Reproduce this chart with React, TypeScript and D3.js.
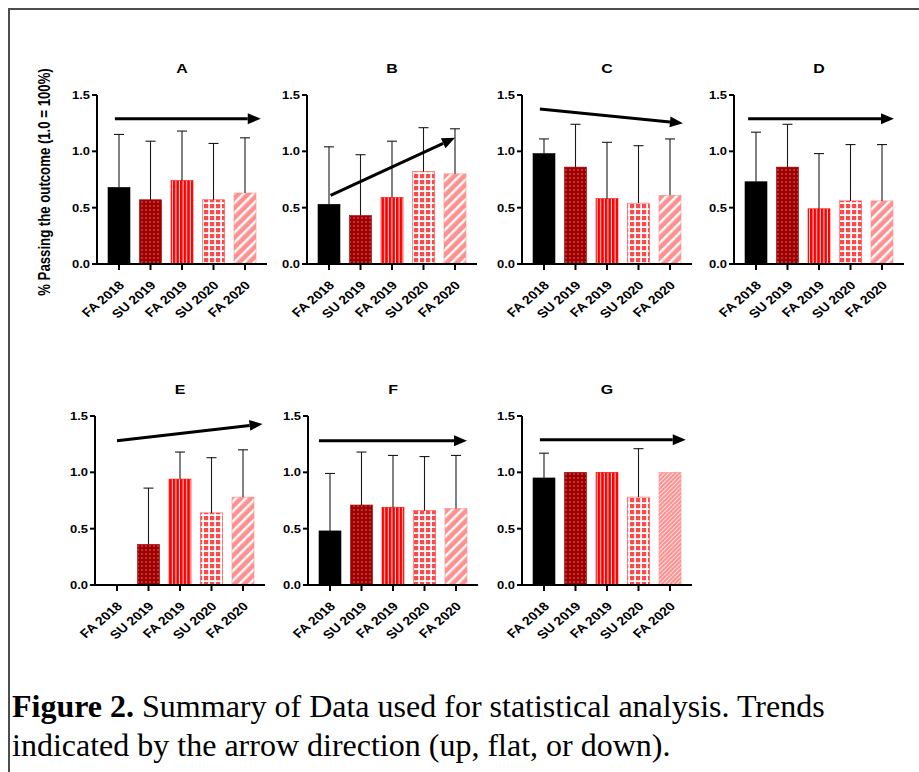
import React from "react";
import * as d3 from "d3";

const categories = ["FA 2018", "SU 2019", "FA 2019", "SU 2020", "FA 2020"];
const panelNames = ["A", "B", "C", "D", "E", "F", "G"];
const yTicks = [0, 0.5, 1.0, 1.5];

const meanA = [0.68, 0.57, 0.74, 0.57, 0.63];
const errA = [1.15, 1.09, 1.18, 1.07, 1.12];
const meanB = [0.53, 0.43, 0.59, 0.82, 0.8];
const errB = [1.04, 0.97, 1.09, 1.21, 1.2];
const meanC = [0.98, 0.86, 0.58, 0.54, 0.61];
const errC = [1.11, 1.24, 1.08, 1.05, 1.11];
const meanD = [0.73, 0.86, 0.49, 0.56, 0.56];
const errD = [1.17, 1.24, 0.98, 1.06, 1.06];
const meanE = [0, 0.36, 0.94, 0.64, 0.78];
const errE = [null, 0.86, 1.18, 1.13, 1.2];
const meanF = [0.48, 0.71, 0.69, 0.66, 0.68];
const errF = [0.99, 1.18, 1.15, 1.14, 1.15];
const meanG = [0.95, 1.0, 1.0, 0.78, 1.0];
const errG = [1.17, null, null, 1.21, null];

// trend arrows: [startIndex, startValue, endIndex, endValue]
const arrowA = [-0.13, 1.29, 4.5, 1.29];
const arrowB = [0.05, 0.61, 4.0, 1.12];
const arrowC = [-0.13, 1.375, 4.41, 1.25];
const arrowD = [-0.25, 1.29, 4.38, 1.29];
const arrowE = [0.0, 1.28, 4.62, 1.43];
const arrowF = [-0.35, 1.28, 4.35, 1.28];
const arrowG = [-0.13, 1.29, 4.5, 1.29];

const yTitle = "% Passing the outcome (1.0 = 100%)";
const captionBold = "Figure 2.";
const captionLine1 = " Summary of Data used for statistical analysis. Trends";
const captionLine2 = "indicated by the arrow direction (up, flat, or down).";

const allMeans = [meanA, meanB, meanC, meanD, meanE, meanF, meanG];
const allErrs = [errA, errB, errC, errD, errE, errF, errG];
const allArrows = [arrowA, arrowB, arrowC, arrowD, arrowE, arrowF, arrowG];

// layout
const W = 919;
const H = 772;
const originsX = [97, 307, 522, 734, 95, 308, 522];
const rowOf = [0, 0, 0, 0, 1, 1, 1];
const rowBottom = [264, 585];
const plotH = 169;
const axisLen = 170;
const firstC = 22;
const lastC = 148;
const barW = 22;
const SX = 1.18; // horizontal stretch of the chart image text
const FONT = "'Liberation Sans', Arial, sans-serif";

const fills = ["#000000", "url(#pDots)", "url(#pVert)", "url(#pCheck)", "url(#pDiag)"];
const strokes = ["#000000", "#9e0000", "#ff0000", "#ff4848", "#ff9090"];

function Panel({ idx }: { idx: number }) {
  const ox = originsX[idx];
  const bottom = rowBottom[rowOf[idx]];
  const y = d3.scaleLinear().domain([0, 1.5]).range([bottom, bottom - plotH]);
  const x = d3.scalePoint<string>().domain(categories).range([ox + firstC, ox + lastC]);
  const xi = d3.scaleLinear().domain([0, categories.length - 1]).range([ox + firstC, ox + lastC]);
  const means = allMeans[idx];
  const errs = allErrs[idx];
  const ar = allArrows[idx];
  const x1 = xi(ar[0]);
  const y1 = y(ar[1]);
  const x2 = xi(ar[2]);
  const y2 = y(ar[3]);
  const ang = Math.atan2(y2 - y1, x2 - x1);
  const headL = 13;
  const headW = 5.5;
  const bx = x2 - headL * Math.cos(ang);
  const by = y2 - headL * Math.sin(ang);
  const px = -Math.sin(ang) * headW;
  const py = Math.cos(ang) * headW;
  const head = `${x2},${y2} ${bx + px},${by + py} ${bx - px},${by - py}`;
  const fillsP = fills.slice();
  if (panelNames[idx] === "G") fillsP[4] = "url(#pDiagFine)";
  return (
    <g>
      <text
        transform={`translate(${ox + axisLen / 2},${bottom - plotH - 22}) scale(${SX},1)`}
        textAnchor="middle"
        fontFamily={FONT}
        fontWeight="bold"
        fontSize={13.5}
      >
        {panelNames[idx]}
      </text>
      {categories.map((c, i) => {
        const m = means[i];
        const cx = x(c)!;
        const h = bottom - y(m);
        return (
          <g key={c}>
            {m > 0 && (
              <rect x={cx - barW / 2} y={y(m)} width={barW} height={h} fill={fillsP[i]} stroke={strokes[i]} strokeWidth={0.6} />
            )}
            {errs[i] != null && (
              <g stroke="#1a1a1a" strokeWidth={1.1}>
                <line x1={cx} x2={cx} y1={y(m)} y2={y(errs[i] as number)} />
                <line x1={cx - 5} x2={cx + 5} y1={y(errs[i] as number)} y2={y(errs[i] as number)} />
              </g>
            )}
          </g>
        );
      })}
      <line x1={ox} x2={ox} y1={bottom + 1} y2={y(1.5)} stroke="#000" strokeWidth={2} />
      <line x1={ox - 1} x2={ox + axisLen} y1={bottom} y2={bottom} stroke="#000" strokeWidth={2} />
      {yTicks.map((t) => (
        <g key={t}>
          <line x1={ox - 5} x2={ox} y1={y(t)} y2={y(t)} stroke="#000" strokeWidth={2} />
          <text
            transform={`translate(${ox - 7},${y(t)}) scale(${SX},1)`}
            dy="0.36em"
            textAnchor="end"
            fontFamily={FONT}
            fontWeight="bold"
            fontSize={11}
          >
            {d3.format(".1f")(t)}
          </text>
        </g>
      ))}
      {categories.map((c) => {
        const cx = x(c)!;
        return (
          <g key={c}>
            <line x1={cx} x2={cx} y1={bottom} y2={bottom + 6} stroke="#000" strokeWidth={2} />
            <text
              transform={`translate(${cx - 1},${bottom + 16}) scale(${SX},1) rotate(-45)`}
              textAnchor="end"
              dy="0.71em"
              fontFamily={FONT}
              fontWeight="bold"
              fontSize={12}
            >
              {c}
            </text>
          </g>
        );
      })}
      <line x1={x1} y1={y1} x2={bx} y2={by} stroke="#000" strokeWidth={3} />
      <polygon points={head} fill="#000" />
    </g>
  );
}

export default function App() {
  return (
    <svg width={W} height={H} style={{ position: "absolute", left: 0, top: 0, background: "#fff" }}>
      <defs>
        <pattern id="pDots" patternUnits="userSpaceOnUse" width={4} height={4}>
          <rect width={4} height={4} fill="#a00000" />
          <rect x={1.5} y={1.5} width={1} height={1} fill="#f4d0d0" />
        </pattern>
        <pattern id="pVert" patternUnits="userSpaceOnUse" width={3.6} height={4}>
          <rect width={3.6} height={4} fill="#ff0000" />
          <rect x={2.6} y={0} width={1} height={4} fill="#ffe0e0" />
        </pattern>
        <pattern id="pCheck" patternUnits="userSpaceOnUse" width={6} height={6}>
          <rect width={6} height={6} fill="#ffffff" />
          <rect x={0} y={0} width={4.2} height={4.2} fill="#ff4848" />
        </pattern>
        <pattern id="pDiag" patternUnits="userSpaceOnUse" width={7} height={7} patternTransform="rotate(45)">
          <rect width={7} height={7} fill="#ff9090" />
          <rect x={0} y={0} width={2.4} height={7} fill="#ffffff" />
        </pattern>
        <pattern id="pDiagFine" patternUnits="userSpaceOnUse" width={3} height={3} patternTransform="rotate(45)">
          <rect width={3} height={3} fill="#ff9090" />
          <rect x={0} y={0} width={1} height={3} fill="#ffe0e0" />
        </pattern>
      </defs>
      <rect width={W} height={H} fill="#fff" />
      <line x1={9} x2={W} y1={9} y2={9} stroke="#4d4d4d" strokeWidth={2} />
      <line x1={9} x2={9} y1={8} y2={H} stroke="#4d4d4d" strokeWidth={2} />
      <text
        transform={`translate(50,182) scale(${SX},1) rotate(-90)`}
        textAnchor="middle"
        fontFamily={FONT}
        fontWeight="bold"
        fontSize={13.2}
      >
        {yTitle}
      </text>
      {panelNames.map((p, i) => (
        <Panel key={p} idx={i} />
      ))}
      <text x={12} y={717} fontFamily="'Liberation Serif', 'Times New Roman', serif" fontSize={32}>
        <tspan fontWeight="bold">{captionBold}</tspan>
        <tspan>{captionLine1}</tspan>
      </text>
      <text x={12} y={756} fontFamily="'Liberation Serif', 'Times New Roman', serif" fontSize={32}>
        {captionLine2}
      </text>
    </svg>
  );
}
